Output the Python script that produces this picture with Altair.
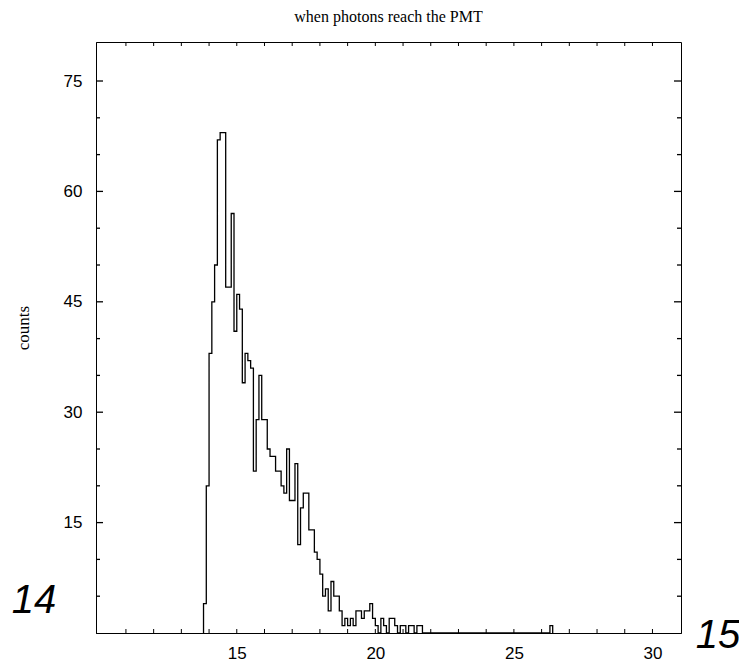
import altair as alt
import pandas as pd

# ---------------- data ----------------
BIN_START = 13.8
BIN_WIDTH = 0.1
counts = [4, 20, 38, 45, 50, 67, 68, 68, 47, 47, 57, 41, 46, 44, 34, 38, 37, 36,
          22, 29, 35, 29, 29, 25, 24, 24, 22, 22, 20, 19, 25, 18, 18, 23, 12, 17,
          19, 19, 14, 14, 11, 10, 8, 5, 6, 3, 7, 5, 5, 3, 1, 2, 1, 2, 1, 3, 3, 2,
          3, 3, 4, 2, 1, 0, 2, 1, 0, 2, 2, 1, 0, 1, 1, 0, 1, 1, 0, 1, 1, 0]
tail_bin_left = [26.3]
tail_counts = [1]

x_label_values = [15, 20, 25, 30]
y_label_values = [15, 30, 45, 60, 75]
x_minor_ticks = list(range(11, 31))
y_major_ticks = [15, 30, 45, 60, 75]
y_minor_ticks = [5, 10, 20, 25, 35, 40, 50, 55, 65, 70]

title_text = "when photons reach the PMT"
y_title = "counts"
note_left = "14"
note_right = "15"

W, H = 585, 591
X_DOMAIN = [9.92, 31.03]
Y_DOMAIN = [0, 80.3]

# ------------- histogram outline path -------------
bins = [(BIN_START + i * BIN_WIDTH, c) for i, c in enumerate(counts)]
bins += list(zip(tail_bin_left, tail_counts))
pts = []
prev_right = None
for left, c in bins:
    left = round(left, 4)
    right = round(left + BIN_WIDTH, 4)
    if prev_right is None or abs(left - prev_right) > 1e-6:
        if prev_right is not None:
            pts.append((prev_right, 0))
        pts.append((left, 0))
    pts.append((left, c))
    pts.append((right, c))
    prev_right = right
pts.append((prev_right, 0))
hist_df = pd.DataFrame({"x": [p[0] for p in pts], "y": [p[1] for p in pts],
                        "o": list(range(len(pts)))})

xs = alt.Scale(domain=X_DOMAIN, nice=False, zero=False)
ys = alt.Scale(domain=Y_DOMAIN, nice=False, zero=False)

x_axis = alt.Axis(values=x_label_values, ticks=False, grid=False, title=None,
                  labelFont="Liberation Sans", labelFontSize=17, labelPadding=12,
                  labelColor="black", domainColor="black", domainWidth=1, format="d")
y_axis = alt.Axis(values=y_label_values, ticks=False, grid=False, title=y_title,
                  labelFont="Liberation Sans", labelFontSize=17, labelPadding=14,
                  labelColor="black", domainColor="black", domainWidth=1,
                  titleFont="Liberation Serif", titleFontSize=17,
                  titleFontWeight="normal", titleColor="black",
                  titleX=-64, titleY=H / 2 - 10, titleAngle=270,
                  format="d")

hist = alt.Chart(hist_df).mark_line(color="black", strokeWidth=1.3, interpolate="linear").encode(
    x=alt.X("x:Q", scale=xs, axis=x_axis, title=None),
    y=alt.Y("y:Q", scale=ys, axis=y_axis, title=y_title),
    order="o:Q",
)

xt = pd.DataFrame({"v": x_minor_ticks})
ymaj = pd.DataFrame({"v": y_major_ticks})
ymin = pd.DataFrame({"v": y_minor_ticks})

def xrule(y0, y1):
    return alt.Chart(xt).mark_rule(color="black", strokeWidth=1).encode(
        x=alt.X("v:Q", scale=xs, axis=x_axis, title=None),
        y=alt.value(y0), y2=alt.value(y1))

def yrule(df, x0, x1):
    return alt.Chart(df).mark_rule(color="black", strokeWidth=1.3).encode(
        y=alt.Y("v:Q", scale=ys, axis=y_axis, title=y_title),
        x=alt.value(x0), x2=alt.value(x1))

ticks = [
    xrule(H, H - 4), xrule(0, 4),
    yrule(ymaj, 0, 7), yrule(ymin, 0, 4),
    yrule(ymaj, W, W - 7), yrule(ymin, W, W - 4),
]

noteL = alt.Chart(pd.DataFrame({"t": [note_left]})).mark_text(
    font="Liberation Sans", fontStyle="italic", fontSize=40, align="center",
    baseline="middle", color="black").encode(text="t:N", x=alt.value(-62), y=alt.value(559))
noteR = alt.Chart(pd.DataFrame({"t": [note_right]})).mark_text(
    font="Liberation Sans", fontStyle="italic", fontSize=40, align="center",
    baseline="middle", color="black").encode(text="t:N", x=alt.value(622), y=alt.value(594))

chart = alt.layer(hist, *ticks, noteL, noteR).properties(
    width=W, height=H,
    title=alt.TitleParams(title_text, font="Liberation Serif", fontSize=16,
                          fontWeight="normal", color="black", anchor="middle", offset=17),
    autosize=alt.AutoSizeParams(type="none"),
    padding={"left": 96, "top": 42, "right": 58, "bottom": 33},
    background="white",
).configure_view(stroke="black", strokeWidth=1)

chart.save("out.html", embed_options={"renderer": "svg", "actions": False})
